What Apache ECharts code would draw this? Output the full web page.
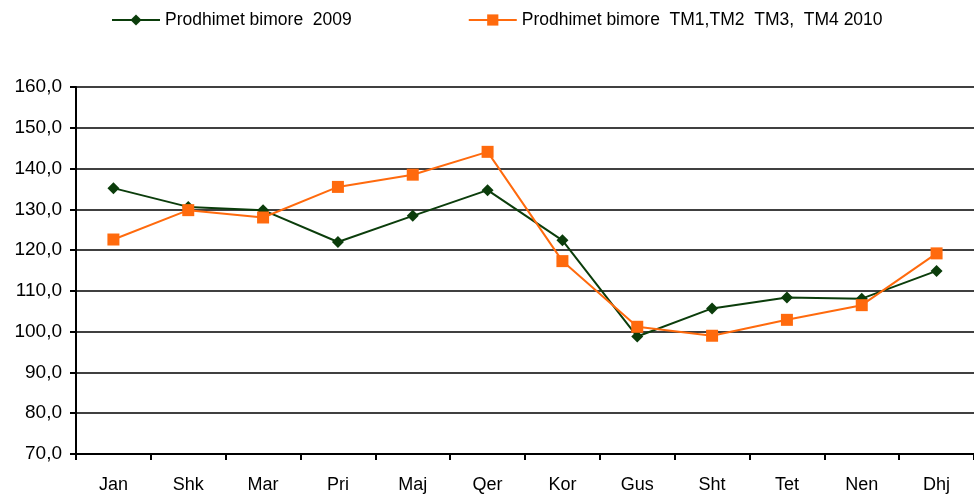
<!DOCTYPE html>
<html>
<head>
<meta charset="utf-8">
<script src="https://cdn.jsdelivr.net/npm/echarts@6/dist/echarts.min.js"></script>
<style>
  html, body { margin: 0; padding: 0; background: #fff; }
  #chart { width: 974px; height: 494px; }
</style>
</head>
<body>
<div id="chart"></div>
<script>
// months (Albanian)
const months = ['Jan', 'Shk', 'Mar', 'Pri', 'Maj', 'Qer', 'Kor', 'Gus', 'Sht', 'Tet', 'Nen', 'Dhj'];
const prod2009 = [135.2, 130.6, 129.8, 122.0, 128.4, 134.7, 122.4, 98.8, 105.7, 108.4, 108.1, 114.9];
const prod2010 = [122.6, 129.8, 128.0, 135.5, 138.5, 144.1, 117.3, 101.2, 99.0, 102.9, 106.5, 119.2];
const name2009 = 'Prodhimet bimore  2009';
const name2010 = 'Prodhimet bimore  TM1,TM2  TM3,  TM4 2010';

const dom = echarts.init(document.getElementById('chart'));
const option = {
    animation: false,
    textStyle: { fontFamily: 'Liberation Sans, Arial, sans-serif' },
    legend: {
        top: 6,
        left: 106,
        itemGap: 116,
        itemWidth: 48,
        itemHeight: 14,
        textStyle: { fontSize: 17.5, color: '#000', fontFamily: 'Liberation Sans, Arial, sans-serif' },
        data: [name2009, name2010]
    },
    grid: {
        left: 76,
        right: -5,
        top: 87,
        bottom: 40
    },
    xAxis: {
        type: 'category',
        boundaryGap: true,
        data: months,
        axisLine: { lineStyle: { color: '#000', width: 2 } },
        axisTick: { show: true, length: 6, lineStyle: { color: '#000', width: 2 } },
        axisLabel: { color: '#000', fontSize: 18, margin: 22 }
    },
    yAxis: {
        type: 'value',
        min: 70,
        max: 160,
        interval: 10,
        axisLine: { show: true, lineStyle: { color: '#000', width: 2 } },
        axisTick: { show: true, length: 6, lineStyle: { color: '#000', width: 2 } },
        axisLabel: {
            color: '#000',
            fontSize: 19,
            margin: 14,
            formatter: function (v) { return v.toFixed(1).replace('.', ','); }
        },
        splitLine: { lineStyle: { color: '#000', width: 1.5 } }
    },
    series: [
        {
            name: name2009,
            type: 'line',
            data: prod2009,
            symbol: 'diamond',
            symbolSize: 12,
            lineStyle: { color: '#0b3d0b', width: 2 },
            itemStyle: { color: '#0b3d0b' }
        },
        {
            name: name2010,
            type: 'line',
            data: prod2010,
            symbol: 'rect',
            symbolSize: 12,
            lineStyle: { color: '#ff6a0d', width: 2 },
            itemStyle: { color: '#ff6a0d' }
        }
    ]
};
dom.setOption(option);
</script>
</body>
</html>
